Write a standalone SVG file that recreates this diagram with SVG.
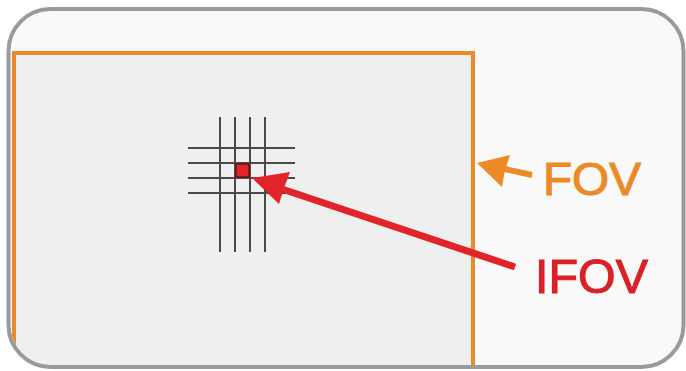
<svg xmlns="http://www.w3.org/2000/svg" width="686" height="371" viewBox="0 0 686 371">
  <style>
    .grid line { stroke: #4a4a4a; stroke-width: 2; }
    .lbl { font-family: "Liberation Sans", Arial, sans-serif; stroke-width: 1.1; }
  </style>
  <defs>
    <clipPath id="frameClip">
      <rect x="10.5" y="11" width="671" height="354" rx="40" ry="40"/>
    </clipPath>
  </defs>

  <!-- outer frame background -->
  <g id="frame-bg">
    <rect x="8.5" y="9" width="675" height="358" rx="42" ry="42" fill="#f9f9fa"/>
  </g>

  <!-- field of view rectangle, trimmed by the rounded frame -->
  <g id="fov" clip-path="url(#frameClip)">
    <path d="M14,372 L14,53 L473,53 L473,372" fill="#efeff0" stroke="#ec8a25" stroke-width="4"/>
  </g>

  <!-- outer frame border -->
  <g id="frame">
    <rect x="8.5" y="9" width="675" height="358" rx="42" ry="42" fill="none" stroke="#9a9a9a" stroke-width="4"/>
  </g>

  <!-- pixel grid -->
  <g id="grid" class="grid">
    <line x1="220" y1="117" x2="220" y2="252"/>
    <line x1="235" y1="117" x2="235" y2="252"/>
    <line x1="250" y1="117" x2="250" y2="252"/>
    <line x1="265" y1="117" x2="265" y2="252"/>
    <line x1="188" y1="148" x2="295" y2="148"/>
    <line x1="188" y1="163" x2="295" y2="163"/>
    <line x1="188" y1="178" x2="295" y2="178"/>
    <line x1="188" y1="193" x2="295" y2="193"/>
  </g>

  <!-- single pixel -->
  <g id="ifov-pixel">
    <rect x="236" y="164" width="13" height="13" fill="#e0242a" stroke="#6a1010" stroke-width="1.5"/>
  </g>

  <!-- labels -->
  <g id="fov-label">
    <text class="lbl" x="543" y="195" font-size="47" fill="#ec8a25" stroke="#ec8a25" textLength="98" lengthAdjust="spacingAndGlyphs">FOV</text>
  </g>
  <g id="ifov-label">
    <text class="lbl" x="535" y="293" font-size="49" fill="#da2128" stroke="#da2128" textLength="113" lengthAdjust="spacingAndGlyphs">IFOV</text>
  </g>

  <!-- connectors -->
  <g id="connectors">
    <line x1="515" y1="267" x2="282" y2="189" stroke="#e0242a" stroke-width="7"/>
    <path d="M252,178 L290,172 L284,188 L279,204 Z" fill="#e0242a"/>
    <line x1="532" y1="175" x2="500" y2="168" stroke="#ec8a25" stroke-width="6"/>
    <path d="M477,163 L510,155 L505,170 L502,187 Z" fill="#ec8a25"/>
  </g>
</svg>
